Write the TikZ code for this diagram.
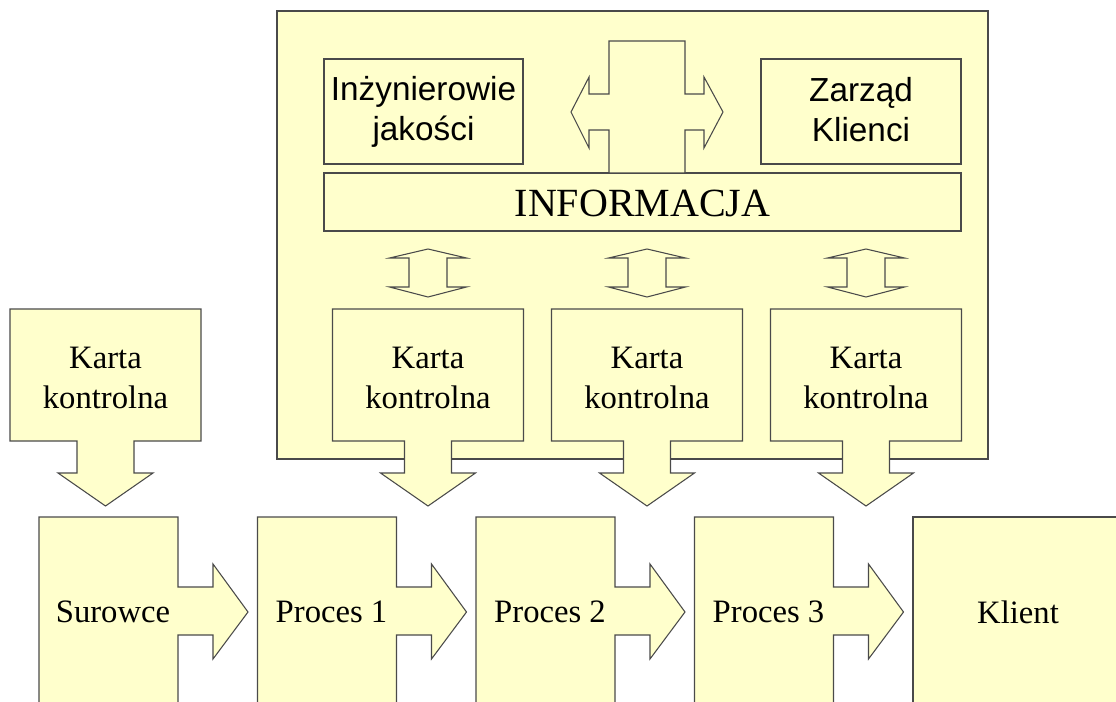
\documentclass[tikz,border=0pt]{standalone}
\usepackage{fontspec}
\setmainfont{Liberation Serif}
\newfontfamily\arialfont{Liberation Sans}
\definecolor{paleyellow}{HTML}{FFFFCC}
\definecolor{edgegray}{HTML}{4A4A4A}

\begin{document}
\begin{tikzpicture}[x=0.75pt, y=-0.75pt, blk/.style={draw=edgegray, fill=paleyellow, line width=0.8pt, line join=miter}, lbl/.style={font=\fontsize{24.5}{30}\selectfont, align=center, inner sep=0pt}, slbl/.style={font=\arialfont\fontsize{25}{30}\selectfont, align=center, inner sep=0pt}]
	\useasboundingbox (0,0) rectangle (1116,702);
	\clip (0,0) rectangle (1116,702);
	% pole informacji
	\draw[blk] (277,11) rectangle (988,459);
	\draw[blk] (324,59) rectangle (523,164);
	\draw[blk] (761,59) rectangle (961,164);
	\draw[blk] (324,173) rectangle (961,231);
	\node[slbl] (inz) at (423.5,112) {Inżynierowie\\jakości};
	\node[slbl] (zarzad) at (861,110) {Zarząd\\Klienci};
	\node[lbl, font=\fontsize{30}{36}\selectfont] (info) at (642.5,203) {INFORMACJA};
	\draw[blk] (609,173) -- (609,130) -- (589,130) -- (589,148) -- (571,112) -- (589,77) -- (589,94) -- (609,94) -- (609,41) -- (685,41) -- (685,94) -- (704,94) -- (704,77) -- (723,112) -- (704,148) -- (704,130) -- (685,130) -- (685,173) -- cycle;
	\foreach \cx in {428,647,866} {\draw[blk] (\cx,249) -- (\cx+38.5,258) -- (\cx+19,258) -- (\cx+19,287) -- (\cx+38.5,287) -- (\cx,297) -- (\cx-38.5,287) -- (\cx-19,287) -- (\cx-19,258) -- (\cx-38.5,258) -- cycle;}
	% karty kontrolne
	\foreach \cx/\sw [count=\i] in {105.5/28.5, 428/23.5, 647/23.5, 866/23.5} {
		\draw[blk] (\cx-95.5,309) -- (\cx+95.5,309) -- (\cx+95.5,441) -- (\cx+\sw,441) -- (\cx+\sw,473) -- (\cx+47.5,473) -- (\cx,506) -- (\cx-47.5,473) -- (\cx-\sw,473) -- (\cx-\sw,441) -- (\cx-95.5,441) -- cycle;
		\node[lbl] (karta\i) at (\cx,378) {Karta\\kontrolna};
	}
	% procesy
	\foreach \x/\t [count=\i] in {39/Surowce, 257.5/Proces 1, 476/Proces 2, 694.5/Proces 3} {
		\draw[blk] (\x,720) -- (\x,517) -- (\x+139,517) -- (\x+139,587) -- (\x+174,587) -- (\x+174,564) -- (\x+209,612) -- (\x+174,659) -- (\x+174,635) -- (\x+139,635) -- (\x+139,720);
		\node[lbl] (p\i) at (\x+74,612) {\t};
	}
	\draw[blk] (913,517) rectangle (1130,720);
	\node[lbl] (klient) at (1018,612) {Klient};
\end{tikzpicture}
\end{document}
